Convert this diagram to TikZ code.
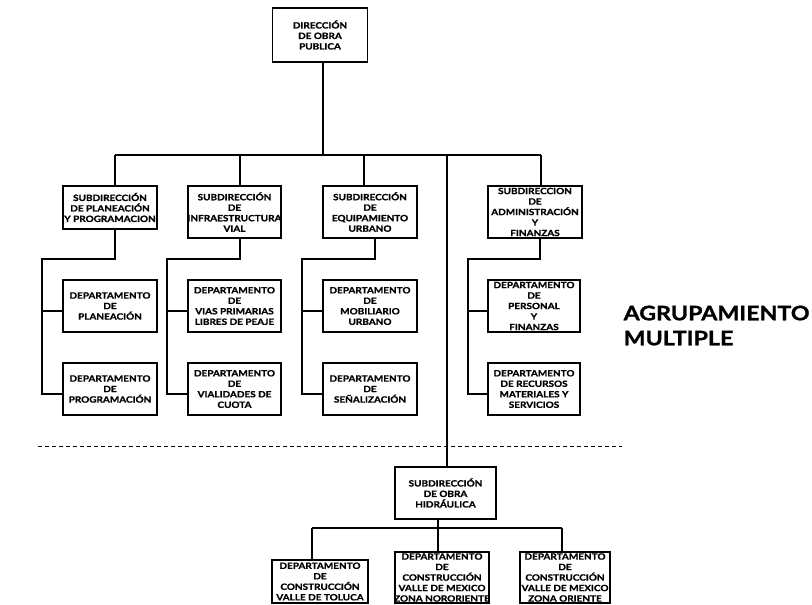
\documentclass[tikz,border=0pt]{standalone}
\usepackage{fontspec}
\setmainfont{Lato}[FakeStretch=1.16, BoldFeatures={FakeBold=1.2}]
\usetikzlibrary{calc}
\begin{document}
\begin{tikzpicture}[x=1pt,y=-1pt,
  line width=1.3pt,
  bx/.style 2 args={draw, rectangle, inner sep=0pt, minimum width=#1, minimum height=#2},
  txt/.style={inner sep=0pt, align=center, font=\bfseries\fontsize{8.6}{10.5}\selectfont},
  big/.style={inner sep=0pt, align=left, font=\bfseries\fontsize{20}{25}\selectfont},
  ]
\useasboundingbox (0,0) rectangle (812,605);

% --- direction
\node[bx={95}{54}, label={[txt]center:{DIRECCIÓN\\DE OBRA\\PUBLICA}}] (top) at (320,35) {};

% --- subdirections
\node[bx={94}{43}, label={[txt]center:{SUBDIRECCIÓN\\DE PLANEACIÓN\\Y PROGRAMACION}}] (s1) at (110,207.5) {};
\node[bx={93}{52}, label={[txt]center:{SUBDIRECCIÓN\\DE\\INFRAESTRUCTURA\\VIAL}}] (s2) at (234.5,212) {};
\node[bx={94}{52}, label={[txt]center:{SUBDIRECCIÓN\\DE\\EQUIPAMIENTO\\URBANO}}] (s3) at (370,212) {};
\node[bx={94}{52}, label={[txt]center:{SUBDIRECCION\\DE\\ADMINISTRACIÓN\\Y\\FINANZAS}}] (s4) at (535,212) {};

% --- departments
\node[bx={94}{52}, label={[txt]center:{DEPARTAMENTO\\DE\\PLANEACIÓN}}] (d11) at (110,306) {};
\node[bx={94}{52}, label={[txt]center:{DEPARTAMENTO\\DE\\PROGRAMACIÓN}}] (d12) at (110,389) {};
\node[bx={93}{52}, label={[txt]center:{DEPARTAMENTO\\DE\\VIAS PRIMARIAS\\LIBRES DE PEAJE}}] (d21) at (234.5,306) {};
\node[bx={93}{52}, label={[txt]center:{DEPARTAMENTO\\DE\\VIALIDADES DE\\CUOTA}}] (d22) at (234.5,389) {};
\node[bx={94}{52}, label={[txt]center:{DEPARTAMENTO\\DE\\MOBILIARIO\\URBANO}}] (d31) at (370,306) {};
\node[bx={94}{52}, label={[txt]center:{DEPARTAMENTO\\DE\\SEÑALIZACIÓN}}] (d32) at (370,389) {};
\node[bx={92}{52}, label={[txt]center:{DEPARTAMENTO\\DE\\PERSONAL\\Y\\FINANZAS}}] (d41) at (534,306) {};
\node[bx={92}{52}, label={[txt]center:{DEPARTAMENTO\\DE RECURSOS\\MATERIALES Y\\SERVICIOS}}] (d42) at (534,389) {};

% --- hydraulic works
\node[bx={101}{52}, label={[txt]center:{SUBDIRECCIÓN\\DE OBRA\\HIDRÁULICA}}] (h) at (445.5,493) {};
\node[bx={96}{43}, label={[txt]center:{DEPARTAMENTO\\DE\\CONSTRUCCIÓN\\VALLE DE TOLUCA}}] (b1) at (320,581.5) {};
\node[bx={94}{51}, label={[txt]center:{DEPARTAMENTO\\DE\\CONSTRUCCIÓN\\VALLE DE MEXICO\\ZONA NORORIENTE}}] (b2) at (442,577.5) {};
\node[bx={90}{51}, label={[txt]center:{DEPARTAMENTO\\DE\\CONSTRUCCIÓN\\VALLE DE MEXICO\\ZONA ORIENTE}}] (b3) at (565,577.5) {};

% --- side caption
\node[big, anchor=north west] (grp) at (623,305) {AGRUPAMIENTO\\MULTIPLE};

% --- main bus
\coordinate (t0) at (323,155);
\coordinate (busL) at (115,155);
\coordinate (t2) at (240,155);
\coordinate (t3) at (364,155);
\coordinate (t4) at (447,155);
\coordinate (busR) at (541,155);
\draw (busL) -- (busR);
\draw (t0 |- top.south) -- (t0);
\draw (busL) -- (busL |- s1.north);
\draw (t2) -- (t2 |- s2.north);
\draw (t3) -- (t3 |- s3.north);
\draw (t4) -- (t4 |- h.north);
\draw (busR) -- (busR |- s4.north);

% --- department branches
\coordinate (e1) at (42,259);
\coordinate (e2) at (167,259);
\coordinate (e3) at (302,259);
\coordinate (e4) at (468,259);
\coordinate (u3) at (375,259);
\coordinate (u4) at (540,259);

\draw (busL |- s1.south) |- (e1) |- ($(d12.west)+(0,5)$);
\draw ($(e1 |- d11.west)+(0,5)$) -- ($(d11.west)+(0,5)$);

\draw (t2 |- s2.south) |- (e2) |- ($(d22.west)+(0,5)$);
\draw ($(e2 |- d21.west)+(0,5)$) -- ($(d21.west)+(0,5)$);

\draw (u3 |- s3.south) |- (e3) |- ($(d32.west)+(0,5)$);
\draw ($(e3 |- d31.west)+(0,5)$) -- ($(d31.west)+(0,5)$);

\draw (u4 |- s4.south) |- (e4) |- ($(d42.west)+(0,5)$);
\draw ($(e4 |- d41.west)+(0,5)$) -- ($(d41.west)+(0,5)$);

% --- separator
\coordinate (dl) at (38,446);
\coordinate (dr) at (622,446);
\draw[line width=1pt, dash pattern=on 4pt off 3pt] (dl) -- (dr);

% --- hydraulic branches
\coordinate (hb) at (438,528);
\coordinate (bl) at (312,528);
\coordinate (br) at (562,528);
\draw (hb |- h.south) -- (hb);
\draw (bl) -- (br);
\draw (bl) -- (bl |- b1.north);
\draw (hb) -- (hb |- b2.north);
\draw (br) -- (br |- b3.north);
\end{tikzpicture}
\end{document}
